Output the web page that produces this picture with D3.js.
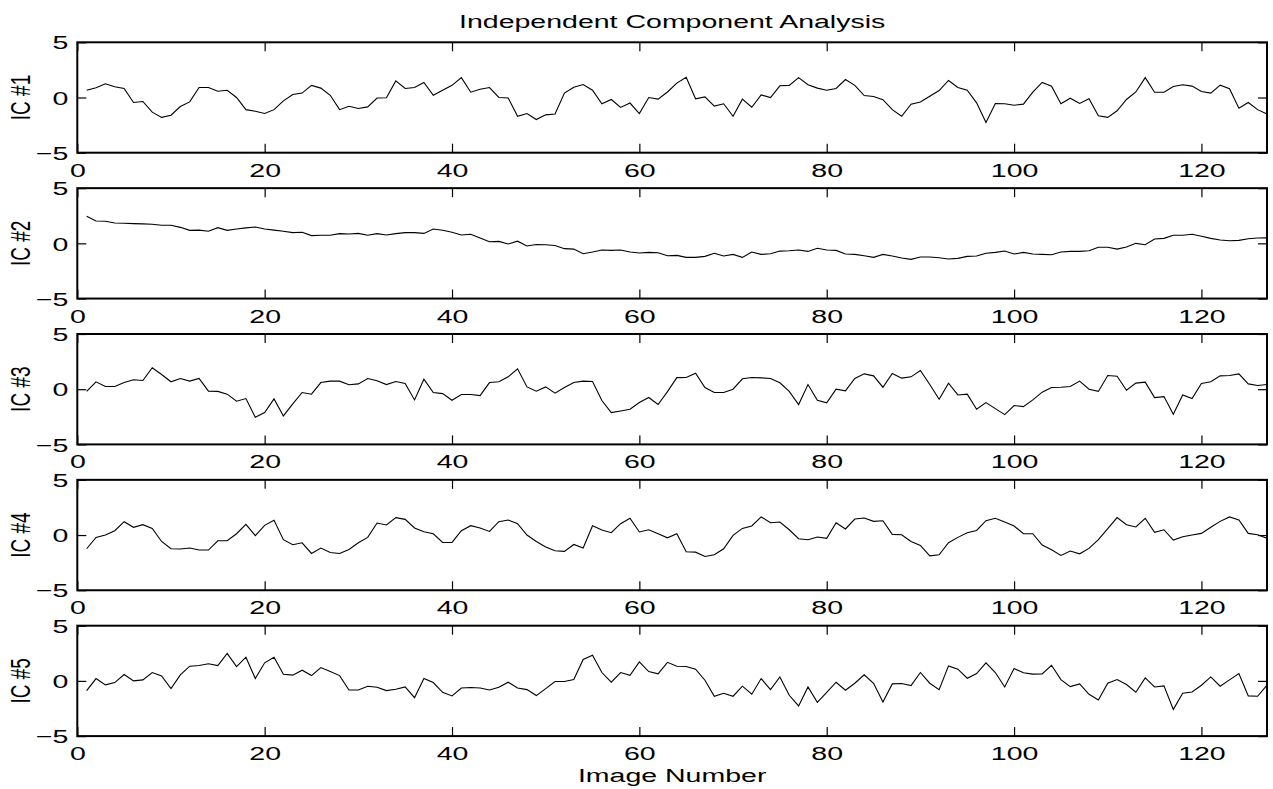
<!DOCTYPE html>
<html>
<head>
<meta charset="utf-8">
<script src="https://cdn.jsdelivr.net/npm/d3@7"></script>
<style>
  body { margin: 0; background: white; }
  text { font-family: "Liberation Sans", Arial, sans-serif; fill: black; }
</style>
</head>
<body>
<script>
// image numbers along the x axis
const imageNumbers = d3.range(1, 128)

const panelNames = ["IC #1", "IC #2", "IC #3", "IC #4", "IC #5"]
const xTicks = [0, 20, 40, 60, 80, 100, 120]
const yTicks = [-5, 0, 5]

const ic1 = [0.66,0.88,1.24,0.97,0.82,-0.45,-0.36,-1.33,-1.8,-1.6,
  -0.82,-0.4,0.9,0.9,0.57,0.66,0,-1.1,-1.25,-1.45,
  -1.1,-0.3,0.27,0.4,1.1,0.85,0.2,-1.1,-0.8,-1.0,
  -0.85,-0.05,-0.03,1.5,0.82,0.9,1.36,0.2,0.66,1.1,
  1.8,0.48,0.75,0.9,0,-0.05,-1.7,-1.45,-2.0,-1.57,
  -1.5,0.4,0.93,1.18,0.66,-0.57,-0.18,-0.9,-0.5,-1.46,
  0,-0.15,0.5,1.3,1.84,-0.12,0.06,-0.78,-0.57,-1.7,
  -0.15,-0.88,0.24,0,1.06,1.1,1.8,1.15,0.85,0.66,
  0.82,1.63,1.1,0.18,0.09,-0.2,-1.1,-1.7,-0.6,-0.4,
  0.12,0.63,1.54,0.9,0.66,-0.48,-2.27,-0.54,-0.57,-0.7,
  -0.6,0.48,1.36,1.03,-0.57,-0.06,-0.54,-0.12,-1.66,-1.8,
  -1.2,-0.18,0.5,1.8,0.48,0.48,1.0,1.15,1.03,0.54,
  0.4,1.12,0.8,-0.97,-0.45,-1.1,-1.5]

const ic2 = [2.45,2.03,2.0,1.85,1.82,1.79,1.76,1.73,1.64,1.64,
  1.45,1.18,1.2,1.1,1.42,1.18,1.3,1.4,1.48,1.3,
  1.2,1.1,0.97,1.0,0.7,0.73,0.73,0.88,0.85,0.9,
  0.73,0.88,0.76,0.88,0.97,0.97,0.9,1.3,1.18,1.0,
  0.76,0.82,0.48,0.15,0.18,-0.06,0.2,-0.24,-0.1,-0.12,
  -0.2,-0.48,-0.52,-0.94,-0.79,-0.6,-0.64,-0.6,-0.79,-0.88,
  -0.82,-0.85,-1.12,-1.09,-1.27,-1.27,-1.18,-0.9,-1.15,-1.0,
  -1.27,-0.79,-1.0,-0.94,-0.7,-0.67,-0.6,-0.73,-0.45,-0.6,
  -0.64,-0.97,-1.0,-1.12,-1.27,-1.0,-1.15,-1.33,-1.45,-1.24,
  -1.24,-1.3,-1.42,-1.36,-1.18,-1.15,-0.9,-0.82,-0.7,-0.97,
  -0.82,-0.97,-1.0,-1.03,-0.79,-0.73,-0.73,-0.67,-0.36,-0.36,
  -0.52,-0.33,0,-0.12,0.4,0.45,0.73,0.73,0.82,0.64,
  0.45,0.3,0.24,0.27,0.42,0.48,0.5]

const ic3 = [-0.2,0.67,0.24,0.24,0.6,0.85,0.79,1.94,1.33,0.67,
  0.97,0.73,0.97,-0.18,-0.2,-0.45,-1.09,-0.85,-2.55,-2.12,
  -0.88,-2.42,-1.33,-0.3,-0.45,0.6,0.73,0.73,0.4,0.48,
  0.97,0.76,0.42,0.7,0.52,-0.97,0.91,-0.3,-0.4,-1.0,
  -0.48,-0.48,-0.58,0.6,0.67,1.12,1.85,0.21,-0.18,0.21,
  -0.36,0.15,0.6,0.73,0.7,-1.03,-2.12,-1.97,-1.82,-1.2,
  -0.75,-1.39,-0.22,1.05,1.06,1.45,0.15,-0.3,-0.3,0,
  0.94,1.06,1.03,0.97,0.58,-0.2,-1.39,0.42,-1.0,-1.24,
  0,-0.15,0.97,1.39,1.21,0.18,1.42,1.0,1.12,1.7,
  0.42,-0.91,0.55,-0.52,-0.45,-1.82,-1.21,-1.76,-2.3,-1.48,
  -1.58,-0.97,-0.27,0.15,0.18,0.24,0.73,0,-0.2,1.24,
  1.18,-0.09,0.55,0.64,-0.76,-0.67,-2.27,-0.52,-0.85,0.52,
  0.67,1.21,1.24,1.39,0.48,0.33,0.42]

const ic4 = [-1.24,-0.21,0,0.39,1.21,0.7,0.94,0.6,-0.58,-1.24,
  -1.27,-1.18,-1.36,-1.36,-0.52,-0.52,0.12,0.97,-0.06,0.88,
  1.33,-0.42,-0.88,-0.7,-1.67,-1.18,-1.58,-1.67,-1.3,-0.7,
  -0.21,1.09,0.91,1.58,1.42,0.64,0.3,0.12,-0.67,-0.67,
  0.39,0.85,0.64,0.33,1.21,1.36,1.03,0,-0.58,-1.09,
  -1.42,-1.48,-0.85,-1.18,0.85,0.45,0.21,1.03,1.52,0.28,
  0.48,0.12,-0.25,0.12,-1.52,-1.55,-1.94,-1.79,-1.24,-0.03,
  0.6,0.82,1.64,1.12,1.18,0.48,-0.33,-0.42,-0.18,-0.3,
  1.12,0.55,1.45,1.55,1.24,1.3,0.06,0.03,-0.58,-0.94,
  -1.88,-1.79,-0.7,-0.21,0.21,0.42,1.3,1.52,1.18,0.82,
  0.12,0.12,-0.91,-1.33,-1.85,-1.45,-1.7,-1.21,-0.42,0.58,
  1.58,0.94,0.73,1.52,0.24,0.48,-0.45,-0.15,0,0.15,
  0.7,1.24,1.64,1.36,0.15,0.03,-0.3]

const ic5 = [-0.88,0.21,-0.36,-0.15,0.58,0,0.09,0.76,0.45,-0.7,
  0.55,1.33,1.39,1.55,1.39,2.48,1.3,2.15,0.21,1.64,
  2.15,0.6,0.52,0.97,0.48,1.21,0.85,0.48,-0.82,-0.82,
  -0.48,-0.58,-0.88,-0.76,-0.55,-1.52,0.21,-0.15,-1.03,-1.36,
  -0.64,-0.6,-0.64,-0.82,-0.58,-0.12,-0.64,-0.79,-1.33,-0.7,
  -0.06,-0.06,0.12,1.94,2.33,0.76,-0.12,0.76,0.5,1.72,
  0.85,0.64,1.68,1.33,1.3,1.06,0.06,-1.39,-1.12,-1.39,
  -0.48,-1.21,0.21,-0.79,0.36,-1.3,-2.27,-0.55,-1.94,-1.03,
  -0.12,-0.85,-0.21,0.55,-0.21,-1.91,-0.27,-0.24,-0.42,0.76,
  -0.21,-0.79,1.36,1.06,0.24,0.67,1.64,0.76,-0.55,1.12,
  0.73,0.61,0.64,1.42,0.12,-0.52,-0.27,-1.21,-1.73,-0.21,
  0.12,-0.33,-1.03,0.27,-0.55,-0.45,-2.58,-1.12,-1.0,-0.39,
  0.36,-0.48,0.09,0.67,-1.36,-1.39,-0.39]

const components = [ic1, ic2, ic3, ic4, ic5]

const W = 1273, H = 789
const left = 77.3, right = 1267
const firstTop = 42.3, step = 145.85, panelH = 110.4
const tickLen = 9
const fontSize = 19
// the original figure is stretched sideways, text included
const stretch = 1.5

const svg = d3.select("body")
              .append("svg")
              .attr("width", W)
              .attr("height", H)
              .style("background-color", "white")

const x = d3.scaleLinear()
            .domain([0, 127])
            .range([left, right])

components.forEach((values, i) => {
    const top = firstTop + i * step
    const y = d3.scaleLinear()
                .domain([-5, 5])
                .range([top + panelH, top])

    const g = svg.append("g")

    // bottom axis with labels, ticks pointing inward
    g.append("g")
     .attr("transform", `translate(0,${top + panelH})`)
     .call(d3.axisBottom(x).tickValues(xTicks).tickSizeInner(-tickLen).tickSizeOuter(0))
     .call(a => a.select(".domain").remove())
     .call(a => a.selectAll("text")
                 .attr("font-size", fontSize).attr("font-family", null)
                 .attr("dy", null).attr("y", 24).attr("x", 0)
                 .attr("transform", `scale(${stretch},1)`))
    // top axis, ticks only
    g.append("g")
     .attr("transform", `translate(0,${top})`)
     .call(d3.axisTop(x).tickValues(xTicks).tickSizeInner(-tickLen).tickSizeOuter(0).tickFormat(""))
     .call(a => a.select(".domain").remove())
    // left axis with labels
    g.append("g")
     .attr("transform", `translate(${left},0)`)
     .call(d3.axisLeft(y).tickValues(yTicks).tickSizeInner(-tickLen).tickSizeOuter(0))
     .call(a => a.select(".domain").remove())
     .call(a => a.selectAll("text")
                 .attr("font-size", fontSize).attr("font-family", null)
                 .attr("x", -9 / stretch).attr("dy", "0.35em")
                 .attr("transform", `scale(${stretch},1)`))
    // right axis, ticks only
    g.append("g")
     .attr("transform", `translate(${right},0)`)
     .call(d3.axisRight(y).tickValues(yTicks).tickSizeInner(-tickLen).tickSizeOuter(0).tickFormat(""))
     .call(a => a.select(".domain").remove())

    g.selectAll(".tick line").attr("stroke", "black").attr("stroke-width", 1.2)

    // box
    g.append("rect")
     .attr("x", left)
     .attr("y", top)
     .attr("width", right - left)
     .attr("height", panelH)
     .attr("fill", "none")
     .attr("stroke", "black")
     .attr("stroke-width", 2)

    const line = d3.line()
                   .x((d, j) => x(imageNumbers[j]))
                   .y(d => y(d))

    g.append("path")
     .datum(values)
     .attr("d", line)
     .attr("fill", "none")
     .attr("stroke", "black")
     .attr("stroke-width", 1.1)

    g.append("text")
     .attr("transform", `translate(30,${top + panelH / 2}) scale(${stretch},1) rotate(-90)`)
     .attr("text-anchor", "middle")
     .attr("font-size", fontSize)
     .text(panelNames[i])
})

svg.append("text")
   .attr("transform", `translate(${(left + right) / 2},28) scale(${stretch},1)`)
   .attr("text-anchor", "middle")
   .attr("font-size", fontSize)
   .text("Independent Component Analysis")

svg.append("text")
   .attr("transform", `translate(${(left + right) / 2},781.5) scale(${stretch},1)`)
   .attr("text-anchor", "middle")
   .attr("font-size", fontSize)
   .text("Image Number")
</script>
</body>
</html>
